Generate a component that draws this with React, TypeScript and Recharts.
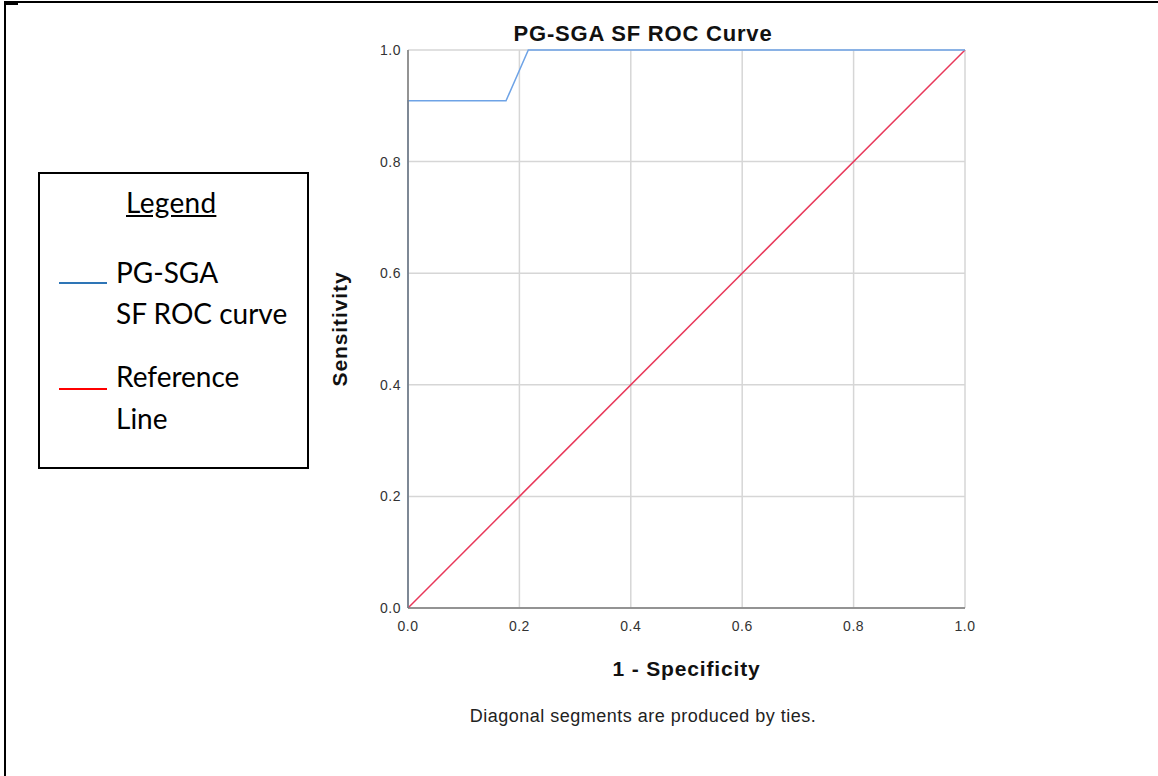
import React from 'react';
import { LineChart, Line, XAxis, YAxis, CartesianGrid, Label } from 'recharts';

// ROC curve points (1 - specificity, sensitivity)
const rocFpr = [0, 0, 0.176, 0.216, 1];
const rocTpr = [0, 0.909, 0.909, 1, 1];

// diagonal reference line
const refFpr = [0, 1];
const refTpr = [0, 1];

const ticks = [0, 0.2, 0.4, 0.6, 0.8, 1];

const rocData = rocFpr.map((x, i) => ({ x, y: rocTpr[i] }));
const refData = refFpr.map((x, i) => ({ x, y: refTpr[i] }));

const legendFont = 'Lato, "Open Sans", sans-serif';
const axisFont = 'Arial, "Liberation Sans", sans-serif';

// boxed legend on the left, drawn like the hand-made one in the source
const LegendBox = () => (
  <div
    style={{
      position: 'absolute',
      left: 38,
      top: 172,
      width: 271,
      height: 297,
      border: '2px solid #000',
      boxSizing: 'border-box',
      fontFamily: legendFont,
      fontSize: 28,
      color: '#000',
    }}
  >
    <div style={{ position: 'absolute', left: 86, top: 11, textDecoration: 'underline', letterSpacing: 0.3 }}>Legend</div>
    <div style={{ position: 'absolute', left: 19, top: 108, width: 48, height: 2, background: '#2e75b6' }} />
    <div style={{ position: 'absolute', left: 76, top: 78, lineHeight: '41px' }}>
      PG-SGA
      <br />
      SF ROC curve
    </div>
    <div style={{ position: 'absolute', left: 19, top: 214, width: 48, height: 2, background: '#ff0000' }} />
    <div style={{ position: 'absolute', left: 76, top: 181, lineHeight: '42px' }}>
      Reference
      <br />
      Line
    </div>
  </div>
);

const tickStyle = { fill: '#333', fontSize: 14, fontFamily: axisFont, letterSpacing: 0.5 };

const App = () => {
  return (
    <div
      style={{
        position: 'absolute',
        left: 0,
        top: 0,
        width: 1158,
        height: 776,
        background: '#fff',
        fontFamily: axisFont,
        overflow: 'hidden',
      }}
    >
      {/* page frame lines */}
      <div style={{ position: 'absolute', left: 4, top: 1, width: 1154, height: 2, background: '#000' }} />
      <div style={{ position: 'absolute', left: 4, top: 1, width: 2, height: 775, background: '#000' }} />
      <div style={{ position: 'absolute', left: 4, top: 3, width: 14, height: 2, background: '#000' }} />

      <LineChart
        width={1158}
        height={776}
        margin={{ top: 50, right: 193, bottom: 108, left: 328 }}
        style={{ position: 'absolute', left: 0, top: 0 }}
      >
        <CartesianGrid stroke="#d6d6d6" strokeWidth={1.5} horizontalValues={ticks} verticalValues={ticks} />
        <XAxis
          type="number"
          dataKey="x"
          domain={[0, 1]}
          ticks={ticks}
          tickFormatter={(v: number) => v.toFixed(1)}
          tickLine={false}
          axisLine={{ stroke: '#7a7a7a', strokeWidth: 1.5 }}
          tick={tickStyle}
          tickMargin={7}
          height={60}
        >
          <Label
            value="1 - Specificity"
            position="insideBottom"
            offset={-8}
            style={{ fontSize: 21, fontWeight: 'bold', fill: '#111', fontFamily: axisFont, letterSpacing: 0.85 }}
          />
        </XAxis>
        <YAxis
          type="number"
          dataKey="y"
          domain={[0, 1]}
          ticks={ticks}
          tickFormatter={(v: number) => v.toFixed(1)}
          tickLine={false}
          axisLine={{ stroke: '#7a7a7a', strokeWidth: 1.5 }}
          tick={tickStyle}
          tickMargin={1}
          width={80}
        >
          <Label
            value="Sensitivity"
            angle={-90}
            position="insideLeft"
            offset={12}
            style={{ textAnchor: 'middle', fontSize: 21, fontWeight: 'bold', fill: '#111', fontFamily: axisFont, letterSpacing: 0.9 }}
          />
        </YAxis>
        <Line
          data={refData}
          dataKey="y"
          type="linear"
          stroke="#e8385a"
          strokeWidth={1.5}
          dot={false}
          activeDot={false}
          isAnimationActive={false}
        />
        <Line
          data={rocData}
          dataKey="y"
          type="linear"
          stroke="#6ea3e6"
          strokeWidth={1.5}
          dot={false}
          activeDot={false}
          isAnimationActive={false}
        />
      </LineChart>

      <LegendBox />

      <div
        style={{
          position: 'absolute',
          left: 408,
          width: 470,
          top: 21,
          textAlign: 'center',
          fontSize: 22,
          fontWeight: 'bold',
          letterSpacing: 0.8,
          color: '#111',
        }}
      >
        PG-SGA SF ROC Curve
      </div>
      <div
        style={{
          position: 'absolute',
          left: 408,
          width: 470,
          top: 706,
          textAlign: 'center',
          fontSize: 18,
          letterSpacing: 0.5,
          color: '#222',
        }}
      >
        Diagonal segments are produced by ties.
      </div>
    </div>
  );
};

export default App;
